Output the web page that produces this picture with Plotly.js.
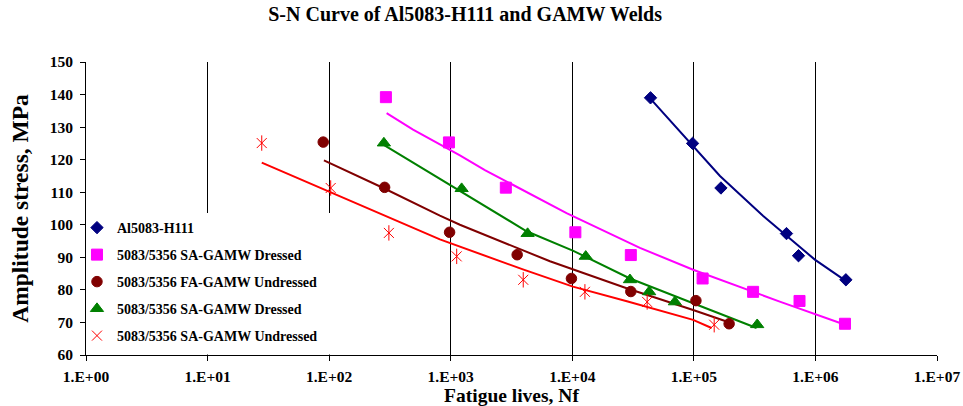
<!DOCTYPE html>
<html><head><meta charset="utf-8">
<script src="https://cdn.plot.ly/plotly-3.0.1.min.js"></script>
<style>html,body{margin:0;padding:0;background:#fff}#chart{width:963px;height:406px}</style>
</head><body><div id="chart"></div>
<script>
// ---- data ----
const seriesNames = ['Al5083-H111', '5083/5356 SA-GAMW Dressed', '5083/5356 FA-GAMW Undressed', '5083/5356 SA-GAMW Dressed', '5083/5356 SA-GAMW Undressed'];

const alN = [44000, 97600, 167000, 578000, 726000, 1780000];
const alS = [139, 125, 111.3, 97.3, 90.5, 83.1];
const alTrendN = [43500, 95700, 164000, 372000, 578000, 989000, 1800000];
const alTrendS = [138.9, 124.8, 115.0, 102.7, 96.6, 89.3, 82.6];

const saDrN = [293, 967, 2840, 10600, 30300, 118000, 307000, 740000, 1750000];
const saDrS = [139.2, 125.3, 111.4, 97.7, 90.7, 83.5, 79.4, 76.6, 69.6];
const saDrTrendN = [297, 490, 1190, 1910, 8970, 36000, 98600, 509000, 1754000];
const saDrTrendS = [134.3, 129.2, 121.3, 116.8, 103.6, 92.9, 86.2, 76.4, 69.3];

const faUnN = [89.4, 286, 979, 3520, 9840, 30300, 104000, 195000];
const faUnS = [125.4, 111.5, 97.7, 90.8, 83.5, 79.5, 76.7, 69.6];
const faUnTrendN = [90.6, 279, 815, 1190, 6550, 10200, 28000, 98600, 186000];
const faUnTrendS = [119.8, 111.3, 102.8, 100.0, 88.8, 86.2, 80.5, 73.8, 70.3];

const saDr2N = [282, 1230, 4290, 12900, 29800, 42900, 69800, 332000];
const saDr2S = [125.1, 111.1, 97.3, 90.3, 83.1, 79.4, 76.3, 69.3];
const saDr2TrendN = [279, 815, 1190, 4210, 10200, 29800, 98600, 328000];
const saDr2TrendS = [124.6, 114.1, 110.3, 98.0, 92.0, 83.5, 75.9, 68.3];

const saUnN = [27.9, 103, 310, 1120, 3950, 12700, 41300, 147000];
const saUnS = [125.1, 111.3, 97.5, 90.3, 83.1, 79.4, 76.3, 69.3];
const saUnTrendN = [27.9, 101.6, 815, 3926, 10120, 28120, 98620, 140000];
const saUnTrendS = [119.1, 110.0, 95.5, 86.3, 81.0, 76.5, 70.8, 68.3];

const xTickVals = [1, 10, 100, 1000, 10000, 100000, 1000000, 10000000];
const xTickText = ['1.E+00', '1.E+01', '1.E+02', '1.E+03', '1.E+04', '1.E+05', '1.E+06', '1.E+07'];

// ---- styling ----
const FONT = 'Liberation Serif, Times New Roman, serif';
const cNavy = '#000080', cPink = '#FF00FF', cMaroon = '#800000', cGreen = '#008000', cRed = '#FF0000';

function trend(x, y, color, g) {
  return {x: x, y: y, mode: 'lines', line: {color: color, width: 2}, showlegend: false, hoverinfo: 'skip', legendgroup: g};
}
function pts(x, y, name, symbol, color, size, g) {
  return {x: x, y: y, mode: 'markers', name: name, legendgroup: g,
          marker: {symbol: symbol, color: color, size: size, line: {color: color, width: 1}}};
}

const traces = [
  trend(alTrendN, alTrendS, cNavy, 'g1'),
  trend(saDrTrendN, saDrTrendS, cPink, 'g2'),
  trend(faUnTrendN, faUnTrendS, cMaroon, 'g3'),
  trend(saDr2TrendN, saDr2TrendS, cGreen, 'g4'),
  trend(saUnTrendN, saUnTrendS, cRed, 'g5'),
  pts(alN, alS, seriesNames[0], 'diamond', cNavy, 9.5, 'g1'),
  pts(saDrN, saDrS, seriesNames[1], 'square', cPink, 11, 'g2'),
  pts(faUnN, faUnS, seriesNames[2], 'circle', cMaroon, 10.5, 'g3'),
  pts(saDr2N, saDr2S, seriesNames[3], 'triangle-up', cGreen, 11.5, 'g4'),
  pts(saUnN, saUnS, seriesNames[4], 'x-thin-open', cRed, 10, 'g5'),
  Object.assign(pts(saUnN, saUnS, seriesNames[4], 'line-ns-open', cRed, 11, 'g5'), {showlegend: false})
];

const tickFont = {family: FONT, size: 15.5, color: '#000', weight: 'bold'};

const layout = {
  width: 963, height: 406,
  margin: {l: 86, r: 26, t: 62, b: 51},
  paper_bgcolor: '#fff', plot_bgcolor: '#fff',
  font: {family: FONT, color: '#000'},
  title: {text: 'S-N Curve of Al5083-H111 and GAMW Welds', font: {family: FONT, size: 20, color: '#000', weight: 'bold'},
          x: 0.483, xanchor: 'center', y: 0.9655, yanchor: 'middle', xref: 'container', yref: 'container'},
  xaxis: {type: 'log', range: [0, 7], tickvals: xTickVals, ticktext: xTickText,
          showgrid: true, gridcolor: '#000', gridwidth: 1, zeroline: false,
          showline: true, linecolor: '#000', linewidth: 1, ticks: 'outside', ticklen: 5, tickcolor: '#000',
          tickfont: tickFont, ticklabelstandoff: 2,
          title: {text: 'Fatigue lives, Nf', font: {family: FONT, size: 19.5, color: '#000', weight: 'bold'}, standoff: 5}, automargin: false},
  yaxis: {range: [60, 150], tick0: 60, dtick: 10, showgrid: false, zeroline: false,
          showline: true, linecolor: '#000', linewidth: 1, ticks: 'outside', ticklen: 5, tickcolor: '#000',
          tickfont: tickFont, ticklabelstandoff: 4,
          title: {text: 'Amplitude stress, MPa', font: {family: FONT, size: 23.5, color: '#000', weight: 'bold'}, standoff: 14}, automargin: false},
  legend: {x: -0.0106, xanchor: 'left', y: 0.488, yanchor: 'top', bgcolor: 'rgba(255,255,255,0)', borderwidth: 0,
           font: {family: FONT, size: 14, color: '#000', weight: 'bold'}, tracegroupgap: 5.8},
  shapes: [{type: 'rect', xref: 'paper', yref: 'paper', x0: 0.0106, x1: 0.2985, y0: 0.002, y1: 0.4846,
            fillcolor: '#fff', line: {width: 0}, layer: 'above'}],
  showlegend: true
};

Plotly.newPlot('chart', traces, layout, {displayModeBar: false, staticPlot: true});
</script></body></html>
